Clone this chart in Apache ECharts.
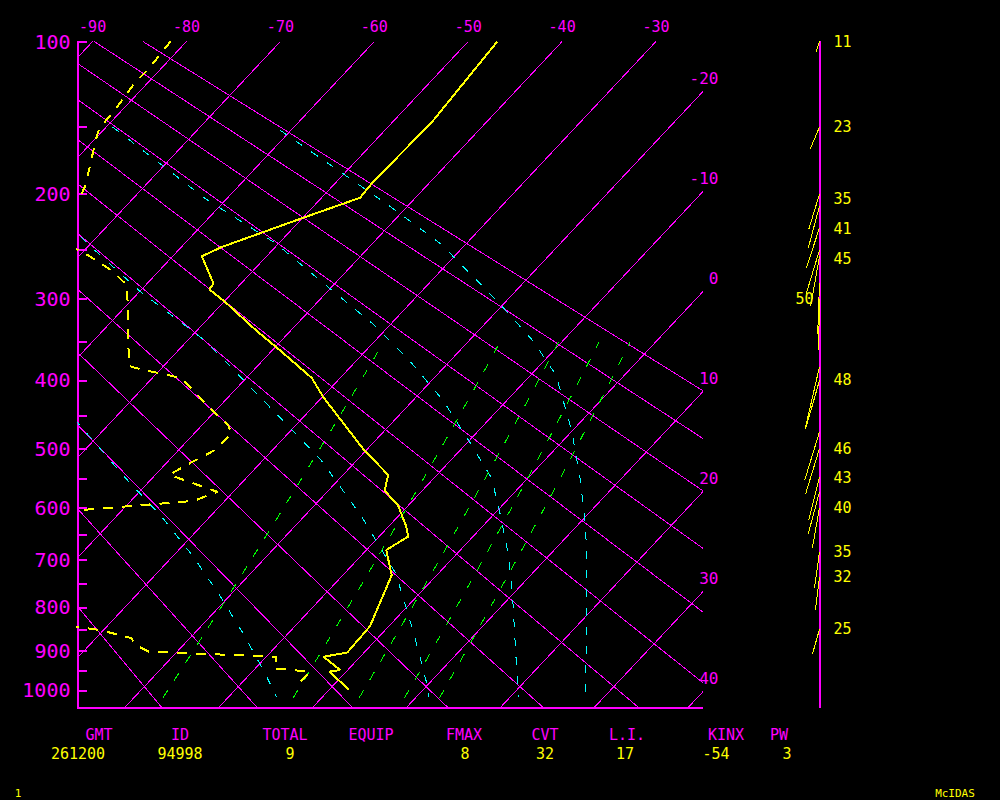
<!DOCTYPE html>
<html><head><meta charset="utf-8">
<script src="https://cdn.jsdelivr.net/npm/echarts@6/dist/echarts.min.js"></script>
<style>html,body{margin:0;padding:0;background:#000}#c{width:1000px;height:800px}#c svg path,#c svg line,#c svg polyline{shape-rendering:crispEdges}</style>
</head><body><div id="c"></div>
<script>
// ---------------- data ----------------
const tempP = [100, 133, 147, 190, 203, 219, 247, 256, 284, 290, 304, 336, 363, 397, 423, 502, 543, 570, 596, 635, 654, 680, 731, 843, 905, 915, 948, 952, 998];
const tempT = [-46.9, -46.1, -45.8, -46.1, -45.9, -49.7, -55.7, -56.9, -52.9, -52.8, -49.8, -43.8, -38.8, -33.0, -29.9, -20.3, -15.2, -14.0, -11.1, -8.1, -6.9, -7.9, -4.8, -2.0, -1.8, -3.9, -0.8, -1.8, 2.1];
const dewP = [100, 115, 122, 138, 151, 161, 178, 194, 202, 225, 250, 261, 271, 285, 302, 381, 385, 394, 397, 437, 464, 477, 502, 527, 543, 572, 588, 610, 830, 852, 870, 888, 903, 915, 944, 952, 973, 997];
const dewT = [-81.7, -81.3, -81.4, -80.8, -80.6, -79.6, -77.8, -76.3, -75.8, -88, -70.5, -67.5, -64.9, -62.1, -60.4, -53.7, -52.2, -48.2, -46.9, -41.1, -37.2, -36.0, -36.1, -37.7, -38.5, -31.7, -33.3, -48, -38, -30.3, -26.3, -24.9, -23.0, -8.9, -8.0, -3.8, -3.9, -3.5];
const windP = [100, 150, 200, 210, 229, 250, 256, 283, 300, 382, 400, 474, 500, 546, 572, 600, 684, 735, 850];
const windSpd = [11, 23, 35, 42, 41, 45, 49, 50, 50, 62, 48, 49, 46, 43, 42, 40, 35, 32, 25];
const windDir = [198, 203, 197, 195, 198, 197, 190, 182, 181, 193, 196, 197, 197, 194, 195, 190, 188, 187, 196];
const windLabelP = [100, 150, 204, 230, 259, 300, 400, 500, 548, 600, 684, 735, 850];
const windLabelText = ['11', '23', '35', '41', '45', '50', '48', '46', '43', '40', '35', '32', '25'];
const windLabelLeftP = [300];
// moist adiabats (cyan)
const moistA_P = [152, 210, 244, 302, 349, 393, 472, 552, 642, 785, 899, 1017];
const moistA_T = [-61.2, -41.9, -32.7, -21.1, -13.2, -7.3, -0.1, 5.8, 11.4, 18.5, 23.4, 28.0];
const moistB_P = [150, 204, 244, 275, 330, 373, 427, 487, 548, 617, 688, 770, 904, 1017];
const moistB_T = [-79.3, -62.2, -50.2, -43.1, -31.7, -24.5, -16.9, -10.1, -3.9, 1.0, 5.5, 9.9, 16.1, 20.9];
const moistC_P = [225, 243.5, 292, 349, 426, 517, 617, 728, 858, 1005, 1017];
const moistC_T = [-74.5, -70.4, -60.0, -48.1, -36.2, -24.0, -13.8, -4.5, 3.3, 10.9, 11.3];
const moistD_P = [440, 461, 548, 617, 692, 770, 858, 954, 1017];
const moistD_T = [-57.0, -53.4, -42.9, -35.1, -27.9, -21.4, -14.9, -8.6, -4.9];
const pressureLabels = [100, 200, 300, 400, 500, 600, 700, 800, 900, 1000];
const pressureTicks = [100, 150, 200, 250, 300, 350, 400, 450, 500, 550, 600, 650, 700, 750, 800, 850, 900, 950, 1000];
const topTempLabels = [-90, -80, -70, -60, -50, -40, -30];
const rightTempLabels = [-20, -10, 0, 10, 20, 30, 40];
const isotherms = [-90, -80, -70, -60, -50, -40, -30, -20, -10, 0, 10, 20, 30, 40];
const dryAdiabats = [-20, -10, 0, 10, 20, 30, 40, 50, 60, 70, 80, 90];
const mixingRatios = [1, 3, 5, 7, 9];
const statNames = ['GMT', 'ID', 'TOTAL', 'EQUIP', 'FMAX', 'CVT', 'L.I.', 'KINX', 'PW'];
const statValues = ['261200', '94998', '9', '', '8', '32', '17', '-54', '3'];

// ---------------- diagram geometry (Stuve, skewed) ----------------
const KAPPA = 0.286;
const Yp = p => Math.pow(p, KAPPA);
const P_TOP = 100, P_BOT = 1045, P0_AD = 990;
const YTOP = Yp(P_TOP), YBOT = Yp(P_BOT);
const SKEW = 18.65;
const XMIN = -91.61, XMAX = -25.05;
const xs = (T, p) => T - SKEW * (Yp(p) - YTOP);
const pt = (T, p) => [xs(T, p), Yp(p)];

const MAG = '#ff00ff', YEL = '#ffff00', CYA = '#00ffff', GRN = '#00ff00';
const FONT = 'DejaVu Sans Mono';
const AXW = 1.5;

function mixLine(w) {
  const out = [];
  for (let p = 1020; p >= 350; p -= 10) {
    const e = w * p / (622 + w), l = Math.log(e / 6.112);
    out.push(pt(243.5 * l / (17.67 - l), p));
  }
  return out;
}

const series = [];
const lineS = (data, color, width, type) => ({
  type: 'line', xAxisIndex: 0, yAxisIndex: 0, data, symbol: 'none', silent: true, animation: false,
  lineStyle: { color, width, type: type || 'solid' }, clip: true
});

isotherms.forEach(T => series.push(lineS([pt(T, P_TOP), pt(T, P_BOT)], MAG, 1)));
dryAdiabats.forEach(th => {
  const K = th + 273.15;
  const tAt = p => K * Math.pow(p / P0_AD, KAPPA) - 273.15;
  series.push(lineS([pt(tAt(P_TOP), P_TOP), pt(tAt(P_BOT), P_BOT)], MAG, 1));
});
[[moistA_P, moistA_T], [moistB_P, moistB_T], [moistC_P, moistC_T], [moistD_P, moistD_T]].forEach(([P, T]) =>
  series.push(lineS(P.map((p, i) => pt(T[i], p)), CYA, 1, [8, 11])));
mixingRatios.forEach(w => series.push(lineS(mixLine(w), GRN, 1, [9, 12])));
series.push(lineS(dewP.map((p, i) => pt(dewT[i], p)), YEL, 2, [10, 9]));
series.push(lineS(tempP.map((p, i) => pt(tempT[i], p)), YEL, 2));

// winds
const WK = 1.03;
series.push({
  type: 'custom', xAxisIndex: 2, yAxisIndex: 2, clip: false, silent: true, animation: false,
  data: windP.map((p, i) => [0, Yp(p), windSpd[i], windDir[i]]),
  renderItem: (params, api) => {
    const c = api.coord([0, api.value(1)]);
    const L = api.value(2) * WK, d = api.value(3) * Math.PI / 180;
    return { type: 'line', shape: { x1: c[0], y1: c[1], x2: c[0] + L * Math.sin(d), y2: c[1] - L * Math.cos(d) }, style: { stroke: YEL, lineWidth: 1 } };
  }
});
series.push({
  type: 'custom', xAxisIndex: 2, yAxisIndex: 2, clip: false, silent: true, animation: false,
  data: windLabelP.map(p => [0, Yp(p)]),
  renderItem: (params, api) => {
    const c = api.coord([0, api.value(1)]);
    const left = windLabelLeftP.indexOf(windLabelP[params.dataIndex]) >= 0;
    return { type: 'text', x: c[0] + (left ? -6 : 14), y: c[1],
      style: { text: windLabelText[params.dataIndex], fill: YEL, font: '15px "' + FONT + '"', align: left ? 'right' : 'left', verticalAlign: 'middle' } };
  }
});

// stats table
const nameX = [99, 180, 285, 371, 464, 545, 627, 726, 779];
const valX = [78, 180, 290, 0, 465, 545, 625, 716, 787];
const graphics = [];
statNames.forEach((n, i) => graphics.push({ type: 'text', x: nameX[i], y: 735, style: { text: n, fill: MAG, font: '15px "' + FONT + '"', align: 'center', verticalAlign: 'middle' } }));
statValues.forEach((v, i) => { if (v !== '') graphics.push({ type: 'text', x: valX[i], y: 754, style: { text: v, fill: YEL, font: '15px "' + FONT + '"', align: 'center', verticalAlign: 'middle' } }); });
graphics.push({ type: 'text', x: 18, y: 793, style: { text: '1', fill: YEL, font: '11px "' + FONT + '"', align: 'center', verticalAlign: 'middle' } });
graphics.push({ type: 'text', x: 955, y: 793, style: { text: 'McIDAS', fill: YEL, font: '11px "' + FONT + '"', align: 'center', verticalAlign: 'middle' } });

const chart = echarts.init(document.getElementById('c'), null, { renderer: 'svg', width: 1000, height: 800 });
chart.setOption({
  backgroundColor: '#000',
  animation: false,
  grid: [
    { left: 77.5, right: 297.5, top: 41.5, bottom: 92.5 },
    { left: 819.5, width: 100, top: 41.5, bottom: 92.5 }
  ],
  xAxis: [
    { gridIndex: 0, type: 'value', min: XMIN, max: XMAX, position: 'top', axisLine: { show: false }, axisTick: { show: false }, splitLine: { show: false },
      axisLabel: { customValues: topTempLabels, color: MAG, fontSize: 15, fontFamily: FONT, margin: 7 } },
    { gridIndex: 0, type: 'value', min: XMIN, max: XMAX, position: 'bottom', axisLine: { show: true, onZero: false, lineStyle: { color: MAG, width: AXW, opacity: 1 } }, axisTick: { show: false }, axisLabel: { show: false }, splitLine: { show: false } },
    { gridIndex: 1, type: 'value', min: 0, max: 1, show: false }
  ],
  yAxis: [
    { gridIndex: 0, type: 'value', inverse: true, min: YTOP, max: YBOT, position: 'left', splitLine: { show: false },
      axisLine: { show: true, onZero: false, lineStyle: { color: MAG, width: AXW, opacity: 1 } },
      axisTick: { show: true, inside: true, length: 9, customValues: pressureTicks.map(Yp), lineStyle: { color: MAG, width: AXW } },
      axisLabel: { customValues: pressureLabels.map(Yp), formatter: v => String(Math.round(Math.pow(v, 1 / KAPPA))), color: MAG, fontSize: 20, fontFamily: FONT, margin: 7 } },
    { gridIndex: 0, type: 'value', inverse: true, min: YTOP, max: YBOT, position: 'right', splitLine: { show: false }, axisLine: { show: false }, axisTick: { show: false },
      axisLabel: { customValues: rightTempLabels.map(T => YTOP + (T - XMAX) / SKEW), formatter: v => String(Math.round(XMAX + SKEW * (v - YTOP))),
        color: MAG, fontSize: 16, fontFamily: FONT, align: 'right', margin: 16, verticalAlign: 'bottom', padding: [0, 0, 6, 0] } },
    { gridIndex: 1, type: 'value', inverse: true, min: YTOP, max: YBOT, position: 'left', splitLine: { show: false },
      axisLine: { show: true, onZero: false, lineStyle: { color: MAG, width: AXW, opacity: 1 } }, axisTick: { show: false }, axisLabel: { show: false } }
  ],
  graphic: graphics,
  series
});
</script></body></html>
